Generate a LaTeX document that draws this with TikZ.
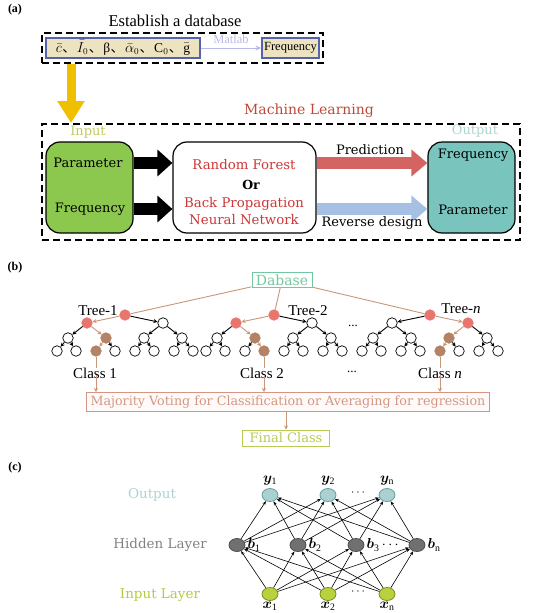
\documentclass[tikz,border=0pt]{standalone}
\usepackage{fontspec}
\setmainfont{Liberation Serif}
\newfontfamily\dvs{DejaVu Serif}
\newfontfamily\cjk{Noto Sans CJK SC}
\usepackage{bm}
\usetikzlibrary{arrows.meta,shapes.geometric}
\definecolor{tanfill}{RGB}{238,227,192}
\definecolor{boxblue}{RGB}{85,100,170}
\definecolor{lav}{RGB}{185,185,232}
\definecolor{yarrow}{RGB}{240,192,0}
\definecolor{mlred}{RGB}{192,72,55}
\definecolor{inlab}{RGB}{190,202,95}
\definecolor{outlab}{RGB}{172,212,204}
\definecolor{gfill}{RGB}{140,200,78}
\definecolor{rfred}{RGB}{205,55,55}
\definecolor{predc}{RGB}{212,100,98}
\definecolor{revc}{RGB}{165,192,226}
\definecolor{tfill}{RGB}{122,196,190}
\definecolor{dabc}{RGB}{115,200,160}
\definecolor{nred}{RGB}{232,118,108}
\definecolor{nbrown}{RGB}{180,130,100}
\definecolor{tanline}{RGB}{200,150,120}
\definecolor{majc}{RGB}{212,150,130}
\definecolor{finc}{RGB}{182,202,85}
\definecolor{ofill}{RGB}{172,208,208}
\definecolor{oline}{RGB}{95,160,160}
\definecolor{hfill}{RGB}{112,112,112}
\definecolor{ifill}{RGB}{184,210,62}
\definecolor{iline}{RGB}{120,140,30}
\definecolor{hlab}{RGB}{130,130,130}
\definecolor{ilab}{RGB}{182,202,62}
\definecolor{olab}{RGB}{170,212,212}

\newcommand{\rftree}[5]{%
  \node[tn,fill=nred,draw=nred] (#1-0) at (#2,315) {};
  \foreach \i/\dx in {1/-38,2/38}{%
    \ifnum\i=#3\relax
      \node[tn,fill=nred,draw=nred] (#1-1-\i) at (#2+\dx,323) {};
      \draw[tline] (#1-0) -- (#1-1-\i);
    \else
      \node[tn] (#1-1-\i) at (#2+\dx,323) {};
      \draw[bline] (#1-0) -- (#1-1-\i);
    \fi}
  \foreach \i/\p/\dx in {1/1/-57,2/1/-19,3/2/19,4/2/57}{%
    \ifnum\i=#4\relax
      \node[tn,fill=nbrown,draw=nbrown] (#1-2-\i) at (#2+\dx,338) {};
      \draw[tline] (#1-1-\p) -- (#1-2-\i);
    \else
      \node[tn] (#1-2-\i) at (#2+\dx,338) {};
      \draw[bline] (#1-1-\p) -- (#1-2-\i);
    \fi}
  \foreach \i/\p/\dx in {1/1/-68,2/1/-49,3/2/-29,4/2/-10,5/3/10,6/3/29,7/4/49,8/4/68}{%
    \ifnum\i=#5\relax
      \node[tn,fill=nbrown,draw=nbrown] (#1-3-\i) at (#2+\dx,351) {};
      \draw[tline] (#1-2-\p) -- (#1-3-\i);
    \else
      \node[tn] (#1-3-\i) at (#2+\dx,351) {};
      \draw[bline] (#1-2-\p) -- (#1-3-\i);
    \fi}
}
\newcommand{\ccm}{\kern0.5pt{\cjk 、}\kern1pt}

\begin{document}
\begin{tikzpicture}[x=1pt,y=-1pt,
  txt/.style={inner sep=0pt},
  plab/.style={inner sep=0pt,font=\fontsize{12}{14}\selectfont\bfseries},
  dbox/.style={draw=boxblue,line width=1.3pt,fill=tanfill,inner sep=0pt,minimum height=20},
  dashbox/.style={draw=black,line width=1.3pt,dash pattern=on 7pt off 4pt},
  bigbox/.style={draw=black,line width=1.2pt,rounded corners=14pt,minimum width=87,minimum height=91},
  tn/.style={circle,draw=black,fill=white,line width=0.7pt,minimum size=10.5,inner sep=0pt},
  tline/.style={draw=tanline,line width=0.9pt,-{Stealth[length=4pt,width=4pt]}},
  bline/.style={draw=black,line width=0.9pt,-{Stealth[length=4pt,width=4pt]}},
  tarr/.style={draw=tanline,line width=0.9pt,-{Stealth[length=4pt,width=4pt]}},
  nn/.style={ellipse,line width=0.8pt,minimum width=16,minimum height=13,inner sep=0pt},
  nnarr/.style={draw=black,line width=0.6pt,-{Stealth[length=4pt,width=3pt]}},
  ]
\useasboundingbox (0,0) rectangle (550,613);

% ---------------- (a)
\node[plab] (pa) at (15,10) {(a)};
\node[txt,font=\fontsize{16.5}{19}\selectfont] (est) at (175,21) {Establish a database};
\node[dashbox,minimum width=281,minimum height=30] (dbase) at (182.5,48) {};
\node[dbox,minimum width=154,font=\fontsize{13.5}{15}\selectfont] (pbox) at (123,48)
  {$\bar{c}$\ccm$\bar{I}_0$\ccm β\ccm$\bar{\alpha}_0$\ccm C$_0$\ccm$\bar{\mathrm{g}}$};
\node[dbox,minimum width=57,font=\fontsize{12.5}{14}\selectfont] (fbox) at (290.5,48) {Frequency};
\draw[draw=lav,line width=1pt,-{Stealth[length=6pt,width=5pt]}] (pbox.east) -- (fbox.west)
  node[midway,above=1pt,text=lav,font=\fontsize{12.5}{14}\selectfont] (matl) {Matlab};
\coordinate (yin) at (71,123);
\draw[draw=yarrow,line width=9pt,-{Triangle[length=22pt,width=26pt]}] (dbase.south -| yin) -- (yin);

\node[txt,text=mlred,font=\dvs\fontsize{14}{16}\selectfont] (mlt) at (309,111) {Machine Learning};
\node[dashbox,minimum width=478,minimum height=116] (ml) at (281,182) {};
\node[txt,text=inlab,font=\dvs\fontsize{13}{15}\selectfont] (inl) at (88,132) {Input};
\node[txt,text=outlab,font=\dvs\fontsize{13}{15}\selectfont] (outl) at (475,131) {Output};

\node[bigbox,fill=gfill] (gbox) at (89.5,187.5) {};
\node[bigbox,fill=white,minimum width=143] (wbox) at (244.5,187.5) {};
\node[bigbox,fill=tfill] (tbox) at (471.5,187.5) {};

\node[txt,font=\dvs\fontsize{13}{15}\selectfont] (gpar) at (88,163) {Parameter};
\node[txt,font=\dvs\fontsize{13}{15}\selectfont] (gfre) at (90,209) {Frequency};
\node[txt,text=rfred,font=\dvs\fontsize{13.3}{15}\selectfont] (rf) at (244,165) {Random Forest};
\node[txt,font=\dvs\bfseries\fontsize{12.5}{14}\selectfont] (or) at (251,185) {Or};
\node[txt,text=rfred,font=\dvs\fontsize{13.3}{15}\selectfont] (bp) at (244,204) {Back Propagation};
\node[txt,text=rfred,font=\dvs\fontsize{13.3}{15}\selectfont] (nnw) at (244,220) {Neural Network};
\node[txt,font=\dvs\fontsize{13}{15}\selectfont] (tfre) at (473,155) {Frequency};
\node[txt,font=\dvs\fontsize{13}{15}\selectfont] (tpar) at (473,210) {Parameter};

\draw[draw=black,line width=12pt,-{Triangle[length=15pt,width=26pt]}] (gbox.east |- gpar) -- (wbox.west |- gpar);
\draw[draw=black,line width=12pt,-{Triangle[length=15pt,width=26pt]}] (gbox.east |- gfre) -- (wbox.west |- gfre);
\draw[draw=predc,line width=12pt,-{Triangle[length=16pt,width=26pt]}] (wbox.east |- gpar) -- (tbox.west |- gpar);
\draw[draw=revc,line width=12pt,-{Triangle[length=16pt,width=26pt]}] (wbox.east |- gfre) -- (tbox.west |- gfre);
\node[txt,font=\dvs\fontsize{13}{15}\selectfont] (pred) at (370,150) {Prediction};
\node[txt,font=\dvs\fontsize{13}{15}\selectfont] (rev) at (372,223) {Reverse design};

% ---------------- (b)
\node[plab] (pb) at (15,268) {(b)};
\node[draw=dabc,line width=1pt,text=dabc,font=\dvs\fontsize{14}{16}\selectfont,minimum width=60,minimum height=15,inner sep=1pt] (dab) at (282,280) {Dabase};
\rftree{ta}{125}{1}{2}{3}
\rftree{tb}{274}{1}{2}{4}
\rftree{tc}{430}{2}{3}{5}
\draw[draw=tanline,line width=0.9pt] (dab) -- (ta-0);
\draw[draw=tanline,line width=0.9pt] (dab) -- (tb-0);
\draw[draw=tanline,line width=0.9pt] (dab) -- (tc-0);
\node[txt,font=\fontsize{15}{17}\selectfont] (tl1) at (98,311) {Tree-1};
\node[txt,font=\fontsize{15}{17}\selectfont] (tl2) at (308,311) {Tree-2};
\node[txt,font=\fontsize{15}{17}\selectfont] (tln) at (461,309) {Tree-\textit{n}};
\node[txt,font=\fontsize{13}{15}\selectfont] (dots1) at (353,326) {...};

\node[txt,font=\fontsize{15}{17}\selectfont] (c1) at (95,373) {Class 1};
\node[txt,font=\fontsize{15}{17}\selectfont] (c2) at (262,373) {Class 2};
\node[txt,font=\fontsize{15}{17}\selectfont] (cn) at (440,373) {Class \textit{n}};
\node[txt,font=\fontsize{13}{15}\selectfont] (dots2) at (352,372) {...};

\node[draw=majc,line width=1pt,text=majc,fill=red!2,font=\dvs\fontsize{12.7}{14}\selectfont,minimum width=403,minimum height=19,inner sep=0pt] (maj) at (288,402)
  {Majority Voting for Classification or Averaging for regression};
\node[draw=finc,line width=1pt,text=finc,font=\dvs\fontsize{13}{15}\selectfont,minimum width=87,minimum height=16,inner sep=0pt] (fc) at (286,438) {Final Class};

\draw[draw=tanline,line width=1pt] (ta-3-3) -- (c1.north -| ta-3-3);
\draw[draw=tanline,line width=1pt] (tb-3-4) -- (c2.north -| tb-3-4);
\draw[draw=tanline,line width=1pt] (tc-3-5) -- (cn.north -| tc-3-5);
\draw[tarr] ([yshift=3pt]c1.south -| ta-3-3) -- (maj.north -| ta-3-3);
\draw[tarr] ([yshift=3pt]c2.south -| tb-3-4) -- (maj.north -| tb-3-4);
\draw[tarr] ([yshift=3pt]cn.south -| tc-3-5) -- (maj.north -| tc-3-5);
\draw[tarr] (maj.south -| fc) -- (fc.north);

% ---------------- (c)
\node[plab] (pc) at (15,468) {(c)};
\node[txt,text=olab,font=\dvs\fontsize{13.5}{15}\selectfont] (lo) at (152,495) {Output};
\node[txt,text=hlab,font=\dvs\fontsize{13.5}{15}\selectfont] (lh) at (160,545) {Hidden Layer};
\node[txt,text=ilab,font=\dvs\fontsize{13.5}{15}\selectfont] (li) at (160,595) {Input Layer};

\node[nn,draw=oline,fill=ofill] (o1) at (270,495) {};
\node[nn,draw=oline,fill=ofill] (o2) at (328,495) {};
\node[nn,draw=oline,fill=ofill] (on) at (387,495) {};
\node[nn,draw=black!70,fill=hfill] (h1) at (237,545) {};
\node[nn,draw=black!70,fill=hfill] (h2) at (298,545) {};
\node[nn,draw=black!70,fill=hfill] (h3) at (356,545) {};
\node[nn,draw=black!70,fill=hfill] (hn) at (417,545) {};
\node[nn,draw=iline,fill=ifill] (i1) at (270,594) {};
\node[nn,draw=iline,fill=ifill] (i2) at (328,594) {};
\node[nn,draw=iline,fill=ifill] (in) at (387,594) {};

\foreach \a in {i1,i2,in}{\foreach \b in {h1,h2,h3,hn}{\draw[nnarr] (\a) -- (\b);}}
\foreach \a in {h1,h2,h3,hn}{\foreach \b in {o1,o2,on}{\draw[nnarr] (\a) -- (\b);}}

\node[txt,font=\fontsize{14}{16}\selectfont] (ly1) at (270,481) {$\bm{y}_{\mathrm{1}}$};
\node[txt,font=\fontsize{14}{16}\selectfont] (ly2) at (328,481) {$\bm{y}_{\mathrm{2}}$};
\node[txt,font=\fontsize{14}{16}\selectfont] (lyn) at (387,481) {$\bm{y}_{\mathrm{n}}$};
\node[txt,font=\fontsize{14}{16}\selectfont,anchor=west] (lb1) at ([xshift=2pt]h1.east) {$\bm{b}_{\mathrm{1}}$};
\node[txt,font=\fontsize{14}{16}\selectfont,anchor=west] (lb2) at ([xshift=2pt]h2.east) {$\bm{b}_{\mathrm{2}}$};
\node[txt,font=\fontsize{14}{16}\selectfont,anchor=west] (lb3) at ([xshift=2pt]h3.east) {$\bm{b}_{\mathrm{3}}\cdots$};
\node[txt,font=\fontsize{14}{16}\selectfont,anchor=west] (lbn) at ([xshift=2pt]hn.east) {$\bm{b}_{\mathrm{n}}$};
\node[txt,font=\fontsize{14}{16}\selectfont] (lx1) at (270,606) {$\bm{x}_{\mathrm{1}}$};
\node[txt,font=\fontsize{14}{16}\selectfont] (lx2) at (328,606) {$\bm{x}_{\mathrm{2}}$};
\node[txt,font=\fontsize{14}{16}\selectfont] (lxn) at (387,606) {$\bm{x}_{\mathrm{n}}$};
\node[txt,font=\fontsize{13}{15}\selectfont] (dots3) at (358,493) {$\cdots$};
\node[txt,font=\fontsize{13}{15}\selectfont] (dots4) at (358,592) {$\cdots$};
\end{tikzpicture}
\end{document}
